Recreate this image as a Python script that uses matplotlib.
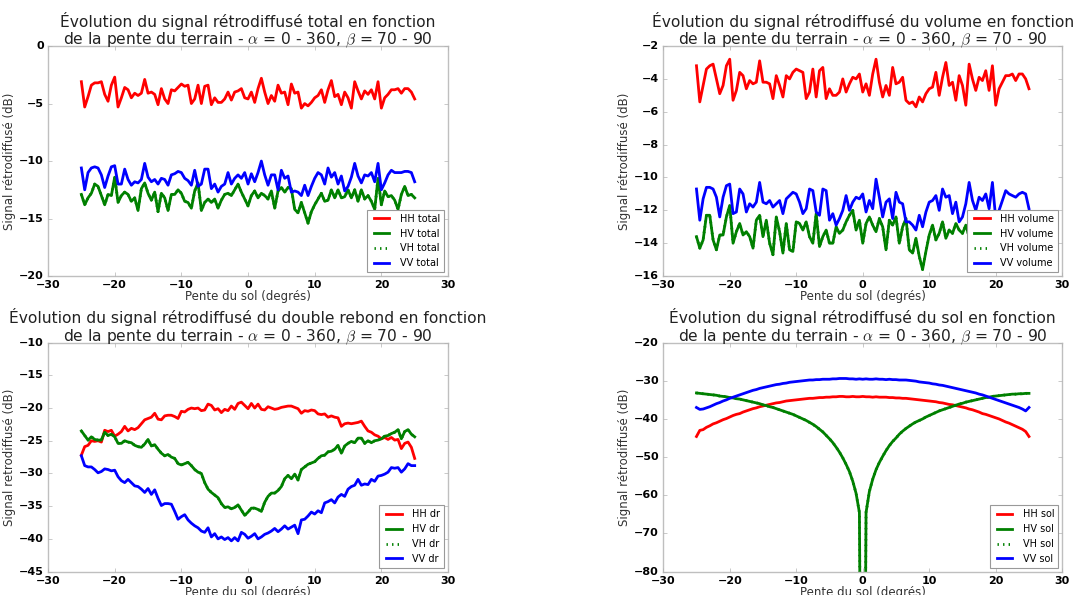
import numpy as np
import matplotlib
matplotlib.use("Agg")
import matplotlib.pyplot as plt

# ==========================================
# 1. DONNEES (lues sur la figure, pas de 0.5 degre)
# ==========================================
pente = np.linspace(-25, 25, 101)

HH_total = [-3.1, -5.3, -4.4, -3.4, -3.2, -3.2, -3.1, -4.2, -4.8, -3.4,
            -2.7, -5.3, -4.5, -3.6, -3.8, -4.5, -4.1, -4.3, -4.1, -2.9,
            -4.1, -4.0, -4.2, -5.1, -3.7, -4.6, -5.0, -3.8, -3.9, -3.6,
            -3.3, -3.5, -3.4, -5.0, -4.6, -3.4, -5.0, -3.5, -3.4, -5.1,
            -4.5, -4.9, -4.9, -4.6, -4.0, -4.7, -4.0, -3.9, -3.7, -4.5,
            -4.6, -4.0, -4.9, -3.7, -2.8, -4.0, -5.0, -4.3, -4.8, -3.4,
            -4.1, -4.0, -5.1, -3.3, -4.1, -4.0, -5.4, -5.0, -5.2, -4.9,
            -4.5, -4.3, -3.8, -4.9, -3.8, -3.0, -4.4, -4.2, -5.1, -4.0,
            -4.5, -5.4, -3.1, -3.9, -4.6, -3.9, -4.2, -3.8, -4.6, -3.1,
            -5.4, -4.5, -4.2, -3.8, -3.8, -3.7, -4.1, -3.7, -3.7, -4.0,
            -4.6]
HV_total = [-12.9, -13.8, -13.2, -12.8, -12.0, -12.2, -13.0, -13.8, -12.9, -13.0,
            -11.4, -13.6, -13.0, -12.7, -12.9, -13.5, -13.2, -14.3, -12.4, -11.9,
            -12.8, -13.4, -12.7, -14.4, -12.8, -13.2, -14.3, -12.9, -12.9, -12.5,
            -12.8, -13.5, -13.6, -14.1, -12.6, -11.9, -14.3, -13.6, -13.3, -13.6,
            -13.3, -14.1, -13.4, -12.9, -12.8, -13.0, -12.5, -12.0, -12.7, -13.3,
            -13.9, -13.0, -12.6, -13.2, -12.8, -13.0, -13.3, -12.6, -14.1, -12.6,
            -12.3, -12.7, -12.3, -12.4, -14.2, -14.5, -13.6, -14.5, -15.4, -14.4,
            -13.8, -13.3, -12.8, -13.5, -13.4, -12.5, -13.2, -12.5, -13.2, -13.1,
            -12.5, -13.2, -12.5, -13.5, -12.5, -13.3, -13.0, -13.5, -14.2, -11.5,
            -13.8, -12.6, -13.1, -13.0, -13.4, -14.2, -12.9, -12.2, -13.0, -12.9,
            -13.2]
VH_total = list(HV_total)
VV_total = [-10.6, -12.5, -11.0, -10.6, -10.5, -10.6, -11.2, -12.3, -11.3, -10.5,
            -10.4, -12.0, -12.0, -10.7, -11.6, -12.1, -11.8, -11.9, -11.6, -10.2,
            -11.4, -11.8, -11.6, -12.0, -11.5, -11.6, -12.1, -11.2, -11.1, -10.9,
            -11.0, -11.5, -11.7, -12.1, -10.8, -12.2, -12.0, -10.7, -10.7, -12.4,
            -12.0, -12.7, -12.2, -12.0, -11.0, -12.0, -11.5, -11.2, -11.5, -11.0,
            -12.0, -11.1, -11.8, -11.0, -10.0, -11.2, -12.1, -11.2, -11.2, -12.5,
            -10.8, -11.5, -11.3, -12.7, -12.6, -12.7, -13.0, -12.1, -13.0, -12.2,
            -11.5, -11.0, -11.2, -12.0, -10.6, -11.4, -11.0, -12.0, -11.3, -12.6,
            -12.2, -11.4, -10.2, -11.3, -11.9, -11.2, -11.3, -11.0, -11.8, -10.2,
            -12.5, -11.9, -11.2, -10.8, -11.0, -11.0, -11.0, -10.9, -10.9, -11.0,
            -11.8]

HH_vol = [-3.2, -5.4, -4.4, -3.4, -3.2, -3.1, -4.0, -4.9, -4.4, -3.2,
          -2.8, -5.3, -4.7, -3.6, -3.8, -4.6, -4.1, -4.3, -4.2, -2.9,
          -4.2, -4.2, -4.3, -5.2, -3.8, -4.4, -5.1, -3.8, -4.0, -3.6,
          -3.4, -3.5, -3.6, -5.2, -4.8, -3.4, -5.1, -3.5, -3.3, -5.2,
          -4.6, -5.0, -5.0, -4.8, -4.0, -4.8, -4.3, -3.9, -4.0, -3.7,
          -4.8, -4.3, -5.0, -3.7, -2.8, -4.2, -5.1, -4.4, -5.0, -3.3,
          -4.3, -4.2, -3.9, -5.3, -5.5, -5.4, -5.7, -5.1, -5.4, -4.9,
          -4.6, -4.5, -3.6, -5.0, -3.9, -3.0, -4.4, -4.2, -5.3, -3.8,
          -4.4, -5.6, -3.1, -4.0, -4.7, -3.9, -4.1, -3.5, -4.7, -3.2,
          -5.6, -4.6, -4.2, -3.8, -3.8, -3.7, -4.1, -3.7, -3.7, -4.0,
          -4.6]
HV_vol = [-13.6, -14.3, -13.8, -12.3, -12.3, -13.8, -14.4, -13.5, -13.5, -12.4,
          -11.7, -14.0, -13.3, -12.8, -13.5, -13.3, -13.6, -14.3, -12.6, -12.3,
          -13.6, -12.6, -14.0, -14.7, -12.4, -13.3, -14.6, -12.8, -14.4, -14.5,
          -12.7, -12.8, -13.2, -12.7, -13.6, -14.0, -12.2, -14.2, -13.6, -13.2,
          -14.0, -14.0, -13.0, -13.4, -13.2, -12.7, -12.3, -12.0, -13.2, -12.6,
          -14.0, -12.8, -12.4, -12.9, -13.3, -12.5, -13.0, -14.4, -12.6, -12.9,
          -12.4, -14.0, -13.0, -12.5, -14.4, -14.6, -13.7, -14.8, -15.6, -14.5,
          -13.5, -12.9, -13.8, -13.4, -12.7, -13.7, -13.2, -13.4, -12.8, -13.2,
          -13.4, -12.9, -13.6, -13.1, -13.0, -13.7, -12.9, -13.4, -13.8, -12.4,
          -14.0, -13.2, -13.5, -13.1, -13.6, -14.2, -13.0, -12.9, -13.4, -13.2,
          -13.5]
VH_vol = list(HV_vol)
VV_vol = [-10.7, -12.6, -11.3, -10.6, -10.6, -10.7, -11.2, -12.4, -11.2, -10.5,
          -10.4, -12.2, -12.1, -10.7, -11.0, -12.1, -11.6, -11.8, -11.5, -10.3,
          -11.5, -11.6, -11.4, -11.8, -11.6, -11.4, -12.2, -11.3, -11.1, -10.9,
          -11.0, -11.5, -12.2, -11.9, -10.7, -10.8, -12.1, -12.3, -10.7, -10.8,
          -12.6, -12.2, -12.9, -12.5, -12.0, -11.1, -12.0, -11.5, -11.2, -11.3,
          -11.0, -12.1, -11.4, -11.9, -10.1, -11.2, -12.4, -11.5, -11.3, -12.5,
          -10.9, -11.5, -11.6, -12.7, -12.7, -12.9, -13.2, -12.3, -13.0, -12.1,
          -11.5, -11.4, -11.1, -12.0, -10.7, -11.2, -11.1, -12.2, -11.5, -12.7,
          -12.4, -11.6, -10.3, -11.4, -12.0, -11.2, -11.4, -11.0, -11.9, -10.3,
          -12.5, -12.0, -11.4, -10.8, -11.0, -11.1, -11.2, -11.0, -10.9, -11.0,
          -11.9]

HH_dr = [-27.2, -25.9, -25.7, -25.0, -25.1, -25.0, -25.2, -23.4, -23.6, -23.4,
         -24.3, -24.0, -23.6, -22.8, -23.5, -23.1, -23.3, -23.0, -22.4, -21.8,
         -21.6, -21.4, -20.8, -21.7, -21.8, -21.2, -21.1, -21.1, -21.3, -21.6,
         -20.5, -20.6, -20.2, -20.0, -20.1, -20.0, -20.4, -20.3, -19.4, -19.6,
         -20.3, -20.1, -20.7, -20.2, -20.4, -19.7, -20.2, -19.3, -19.1, -19.6,
         -20.1, -19.3, -20.0, -19.4, -20.2, -20.3, -19.8, -20.0, -20.2, -20.1,
         -19.9, -19.8, -19.7, -19.7, -19.9, -20.1, -20.8, -20.4, -20.5, -20.3,
         -20.4, -20.9, -21.0, -20.9, -21.4, -21.2, -21.4, -21.5, -22.8, -22.4,
         -22.3, -22.4, -22.3, -22.2, -22.0, -22.8, -23.5, -23.7, -24.1, -24.3,
         -24.7, -24.5, -24.8, -24.5, -24.9, -24.8, -26.2, -25.4, -25.2, -26.0,
         -27.7]
HV_dr = [-23.5, -24.2, -24.9, -24.4, -24.8, -24.9, -24.9, -23.7, -24.2, -24.0,
         -24.4, -25.4, -25.4, -25.0, -25.2, -25.3, -25.7, -25.9, -26.0, -25.5,
         -24.8, -25.8, -25.6, -26.3, -26.9, -27.3, -27.1, -27.5, -27.7, -28.5,
         -28.7, -28.5, -28.3, -28.8, -29.4, -29.8, -30.0, -31.4, -32.4, -32.9,
         -33.3, -33.7, -34.6, -35.2, -35.1, -35.4, -35.2, -34.8, -35.6, -36.4,
         -35.9, -35.3, -35.3, -35.5, -35.8, -34.4, -33.5, -33.0, -33.0, -32.6,
         -32.0, -30.8, -30.3, -30.8, -30.1, -31.0, -29.4, -29.0, -28.6, -28.4,
         -28.2, -27.7, -27.3, -27.2, -26.7, -26.6, -26.3, -25.7, -26.9, -25.8,
         -25.4, -25.1, -25.3, -24.6, -24.6, -25.4, -25.0, -25.3, -25.0, -24.9,
         -24.7, -24.3, -24.2, -23.9, -23.7, -23.3, -24.7, -23.6, -23.3, -24.0,
         -24.4]
VH_dr = list(HV_dr)
VV_dr = [-27.3, -28.8, -29.0, -29.0, -29.4, -29.9, -29.7, -29.3, -29.4, -29.6,
         -29.5, -30.5, -31.1, -31.4, -30.9, -31.4, -31.9, -32.0, -32.4, -32.9,
         -32.3, -33.2, -32.5, -33.8, -34.9, -34.6, -34.6, -34.7, -35.8, -37.0,
         -36.6, -36.3, -37.1, -37.6, -38.0, -38.3, -38.8, -39.0, -38.3, -39.7,
         -39.2, -40.0, -39.7, -40.1, -39.8, -40.3, -39.8, -40.3, -39.0, -39.3,
         -39.9, -39.6, -39.2, -40.0, -39.7, -39.3, -39.1, -38.8, -38.4, -38.9,
         -38.5, -38.0, -38.5, -38.2, -37.9, -39.2, -37.1, -37.0, -36.5, -35.9,
         -36.2, -35.7, -36.0, -34.5, -34.3, -34.0, -34.5, -33.6, -33.2, -33.5,
         -32.4, -32.0, -31.8, -30.9, -31.8, -31.6, -31.7, -30.9, -31.2, -30.4,
         -30.3, -30.1, -29.8, -29.1, -29.2, -29.1, -29.8, -29.3, -28.5, -28.8,
         -28.8]

HH_sol = [-44.6, -43.0, -42.8, -42.2, -41.8, -41.3, -41.0, -40.6, -40.2, -39.9,
          -39.5, -39.1, -38.8, -38.6, -38.2, -37.9, -37.6, -37.3, -37.1, -36.8,
          -36.6, -36.4, -36.2, -36.0, -35.8, -35.7, -35.5, -35.3, -35.2, -35.1,
          -35.0, -34.9, -34.8, -34.7, -34.6, -34.6, -34.5, -34.4, -34.4, -34.3,
          -34.3, -34.2, -34.2, -34.1, -34.1, -34.2, -34.2, -34.1, -34.2, -34.2,
          -34.1, -34.2, -34.2, -34.3, -34.2, -34.3, -34.3, -34.3, -34.4, -34.4,
          -34.5, -34.5, -34.6, -34.6, -34.7, -34.8, -34.9, -35.0, -35.1, -35.2,
          -35.3, -35.4, -35.5, -35.7, -35.8, -36.0, -36.2, -36.3, -36.5, -36.7,
          -36.9, -37.1, -37.4, -37.6, -37.9, -38.2, -38.6, -38.8, -39.1, -39.4,
          -39.7, -40.0, -40.4, -40.8, -41.1, -41.5, -41.9, -42.3, -42.7, -43.3,
          -44.6]
HV_sol = [-33.2, -33.3, -33.4, -33.5, -33.6, -33.7, -33.8, -34.0, -34.1, -34.2,
          -34.4, -34.5, -34.7, -34.8, -35.0, -35.2, -35.4, -35.6, -35.8, -36.0,
          -36.3, -36.5, -36.8, -37.0, -37.3, -37.6, -37.9, -38.2, -38.5, -38.8,
          -39.2, -39.6, -40.0, -40.4, -40.9, -41.4, -42.0, -42.7, -43.4, -44.3,
          -45.2, -46.2, -47.4, -48.7, -50.2, -51.9, -53.8, -56.3, -59.5, -64.5,
          -200.0, -64.5, -59.0, -55.8, -53.3, -51.4, -49.8, -48.3, -47.0, -45.9,
          -45.0, -44.0, -43.2, -42.5, -41.9, -41.3, -40.8, -40.4, -40.0, -39.5,
          -39.1, -38.7, -38.3, -37.9, -37.6, -37.3, -37.0, -36.7, -36.4, -36.1,
          -35.9, -35.6, -35.4, -35.2, -35.0, -34.8, -34.6, -34.4, -34.3, -34.1,
          -34.0, -33.9, -33.8, -33.7, -33.6, -33.5, -33.5, -33.4, -33.4, -33.3,
          -33.3]
VH_sol = list(HV_sol)
VV_sol = [-37.0, -37.5, -37.4, -37.1, -36.8, -36.4, -36.0, -35.7, -35.3, -35.0,
          -34.6, -34.3, -34.0, -33.7, -33.4, -33.1, -32.8, -32.5, -32.3, -32.0,
          -31.8, -31.6, -31.4, -31.2, -31.0, -30.9, -30.7, -30.6, -30.4, -30.3,
          -30.2, -30.1, -30.0, -29.9, -29.8, -29.8, -29.7, -29.7, -29.6, -29.6,
          -29.6, -29.5, -29.5, -29.4, -29.4, -29.4, -29.5, -29.5, -29.6, -29.5,
          -29.6, -29.5, -29.6, -29.6, -29.5, -29.6, -29.6, -29.7, -29.6, -29.7,
          -29.7, -29.8, -29.8, -29.8, -29.9, -30.0, -30.1, -30.3, -30.4, -30.5,
          -30.6, -30.8, -30.9, -31.1, -31.2, -31.4, -31.6, -31.8, -32.0, -32.2,
          -32.4, -32.6, -32.8, -33.0, -33.2, -33.5, -33.7, -34.0, -34.3, -34.6,
          -34.9, -35.2, -35.5, -35.8, -36.1, -36.4, -36.7, -37.0, -37.4, -37.9,
          -37.0]

# ==========================================
# 2. STYLE
# ==========================================
plt.style.use('classic')
plt.rcParams['figure.facecolor'] = 'white'
plt.rcParams['savefig.facecolor'] = 'white'
plt.rcParams['font.family'] = ['DejaVu Sans']
plt.rcParams['mathtext.fontset'] = 'cm'

fig = plt.figure(figsize=(10.77, 5.95), dpi=100)

positions = [
    [0.0446, 0.536, 0.3714, 0.3866],
    [0.6158, 0.536, 0.3705, 0.3866],
    [0.0446, 0.0393, 0.3714, 0.3849],
    [0.6158, 0.0393, 0.3705, 0.3849],
]

panneaux = [
    ("total", "rétrodiffusé total", "Signal rétrodiffusé (dB)",
     HH_total, HV_total, VH_total, VV_total, (-20, 0), [-20, -15, -10, -5, 0]),
    ("volume", "rétrodiffusé du volume", "Signal rétrodiffusé (dB)",
     HH_vol, HV_vol, VH_vol, VV_vol, (-16, -2), [-16, -14, -12, -10, -8, -6, -4, -2]),
    ("dr", "rétrodiffusé du double rebond", "Signal retrodiffusé (dB)",
     HH_dr, HV_dr, VH_dr, VV_dr, (-45, -10), [-45, -40, -35, -30, -25, -20, -15, -10]),
    ("sol", "rétrodiffusé du sol", "Signal rétrodiffusé (dB)",
     HH_sol, HV_sol, VH_sol, VV_sol, (-80, -20), [-80, -70, -60, -50, -40, -30, -20]),
]

# ==========================================
# 3. TRACE DES 4 PANNEAUX
# ==========================================
for pos, (nom, desc, ylab, hh, hv, vh, vv, ylim, yticks) in zip(positions, panneaux):
    ax = fig.add_axes(pos)
    ax.plot(pente, hh, color='r', linewidth=2, label=f"HH {nom}")
    ax.plot(pente, hv, color='g', linewidth=2, label=f"HV {nom}")
    ax.plot(pente, vh, color='g', linewidth=2, linestyle=':', label=f"VH {nom}")
    ax.plot(pente, vv, color='b', linewidth=2, label=f"VV {nom}")

    ax.set_xlim(-30, 30)
    ax.set_ylim(*ylim)
    ax.set_xticks([-30, -20, -10, 0, 10, 20, 30])
    ax.set_yticks(yticks)
    for lab in ax.get_xticklabels() + ax.get_yticklabels():
        lab.set_fontweight('bold')
        lab.set_fontsize(8)
    ax.tick_params(which='both', direction='in', length=3, color='0.7', pad=3)
    for sp in ax.spines.values():
        sp.set_color('0.75')

    ax.set_title(f"Évolution du signal {desc} en fonction\n"
                 r"de la pente du terrain - $\alpha$ = 0 - 360, $\beta$ = 70 - 90",
                 fontsize=11.2, pad=1, color='#222222', linespacing=1.1)
    ax.set_xlabel("Pente du sol (degrés)", fontsize=8.5, labelpad=0, color='#333333')
    ax.set_ylabel(ylab, fontsize=8.5, labelpad=2, color='#333333')

    leg = ax.legend(loc='lower right', fontsize=7, numpoints=2, handlelength=2.2,
                    borderpad=0.4, labelspacing=0.5, borderaxespad=0.4)
    leg.get_frame().set_edgecolor('0.6')
    leg.get_frame().set_linewidth(0.8)

plt.savefig("out.png", dpi=100)
